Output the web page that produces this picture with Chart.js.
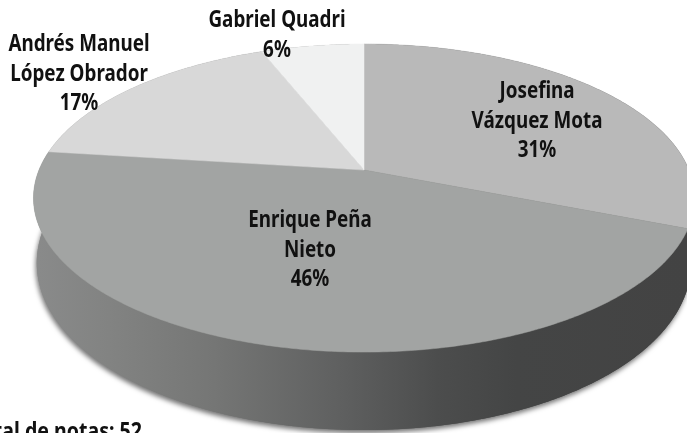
<!DOCTYPE html>
<html>
<head>
<meta charset="utf-8">
<style>
  html, body { margin: 0; padding: 0; background: #fff; overflow: hidden; }
  canvas { display: block; }
</style>
<script src="https://cdn.jsdelivr.net/npm/chart.js@4"></script>
</head>
<body>
<canvas id="pieChart" width="687" height="433"></canvas>
<script>
// Data
const candidates = ['Josefina Vázquez Mota', 'Enrique Peña Nieto', 'Andrés Manuel López Obrador', 'Gabriel Quadri'];
const shares = [31, 46, 17, 6];
const sliceColors = ['#b9b9b9', '#a2a4a3', '#d8d8d8', '#f0f1f1'];
const footnote = 'Total de notas: 52';

// Perspective of the disc
const cx = 364, cy = 170, radius = 325;
const pa = 118, pc = -0.182;

function topPoint(a) {
    const u = Math.cos(a), v = Math.sin(a);
    const d = 1 + pc * v;
    return [cx + radius * u / d, (cy + pa * v) / d];
}

function bottomPoint(a) {
    const p = topPoint(a);
    return [cx + (p[0] - cx) * 0.99, p[1] + 62 + 16 * Math.sin(a)];
}

function arcPoints(fn, a0, a1) {
    const pts = [];
    const n = Math.max(2, Math.ceil(Math.abs(a1 - a0) / 0.01));
    for (let i = 0; i <= n; i++) pts.push(fn(a0 + (a1 - a0) * i / n));
    return pts;
}

function tracePath(ctx, pts) {
    ctx.beginPath();
    pts.forEach((p, i) => i ? ctx.lineTo(p[0], p[1]) : ctx.moveTo(p[0], p[1]));
    ctx.closePath();
}

function sideGradient(ctx) {
    const g = ctx.createLinearGradient(30, 0, 687, 0);
    g.addColorStop(0, '#8a8b8b');
    g.addColorStop(0.12, '#828382');
    g.addColorStop(0.28, '#757675');
    g.addColorStop(0.48, '#5e5f5f');
    g.addColorStop(0.62, '#4c4d4d');
    g.addColorStop(0.74, '#444545');
    g.addColorStop(1, '#434343');
    return g;
}

// Draws the library's arcs as a tilted 3D disc
const tiltedPie = {
    id: 'tiltedPie',
    beforeDatasetsDraw(chart) {
        const ctx = chart.ctx;
        const arcs = chart.getDatasetMeta(0).data;

        // side wall, with soft shadow
        ctx.save();
        ctx.shadowColor = 'rgba(0,0,0,0.55)';
        ctx.shadowBlur = 5;
        ctx.shadowOffsetY = 3;
        ctx.shadowOffsetX = -1;
        ctx.fillStyle = sideGradient(ctx);
        tracePath(ctx, arcPoints(bottomPoint, 0, Math.PI * 2));
        ctx.fill();
        ctx.restore();
        ctx.fillStyle = sideGradient(ctx);
        arcs.forEach(arc => {
            const top = arcPoints(topPoint, arc.startAngle, arc.endAngle);
            const low = arcPoints(bottomPoint, arc.endAngle, arc.startAngle);
            tracePath(ctx, top.concat(low));
            ctx.fill();
        });

        // top face
        arcs.forEach((arc, i) => {
            const pts = arcPoints(topPoint, arc.startAngle, arc.endAngle);
            pts.push([cx, cy]);
            tracePath(ctx, pts);
            ctx.fillStyle = sliceColors[i];
            ctx.fill();
            ctx.strokeStyle = sliceColors[i];
            ctx.lineWidth = 0.5;
            ctx.stroke();
        });
        return false;
    }
};

// Labels: line breaks and first baseline per slice
const labelLines = [
    ['Josefina', 'Vázquez Mota'],
    ['Enrique Peña', 'Nieto'],
    ['Andrés Manuel', 'López Obrador'],
    ['Gabriel Quadri']
];
const labelAnchors = [[537, 98], [310, 227], [79, 51], [277, 27]];
const labelLeading = 29.5;

const pieLabels = {
    id: 'pieLabels',
    afterDraw(chart) {
        const ctx = chart.ctx;
        ctx.save();
        ctx.fillStyle = '#111';
        ctx.font = '700 24px "Noto Sans"';
        ctx.textBaseline = 'alphabetic';
        const putText = (text, x, y, align, squeeze) => {
            ctx.save();
            ctx.translate(x, y);
            ctx.scale(squeeze || 0.785, 1);
            ctx.textAlign = align || 'center';
            ctx.fillText(text, 0, 0);
            ctx.restore();
        };
        labelLines.forEach((lines, i) => {
            const [x, y] = labelAnchors[i];
            const rows = lines.concat(shares[i] + '%');
            rows.forEach((row, r) => putText(row, x, y + r * labelLeading));
        });
        putText(footnote, 142, 439, 'right', 0.815);
        ctx.restore();
    }
};

new Chart(document.getElementById('pieChart').getContext('2d'), {
    type: 'pie',
    data: {
        labels: candidates,
        datasets: [{ data: shares, backgroundColor: sliceColors, borderWidth: 0 }]
    },
    options: {
        responsive: false,
        animation: false,
        plugins: {
            legend: { display: false },
            tooltip: { enabled: false }
        }
    },
    plugins: [tiltedPie, pieLabels]
});
</script>
</body>
</html>
